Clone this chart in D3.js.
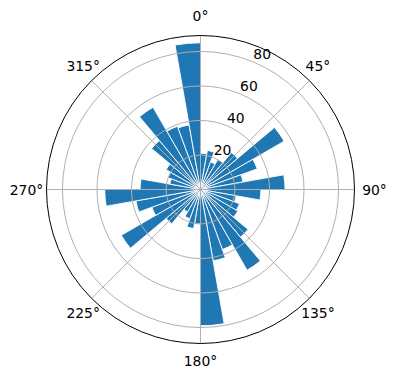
<!DOCTYPE html>
<html>
<head>
<meta charset="utf-8">
<script src="https://cdn.jsdelivr.net/npm/d3@7"></script>
<style>
  body { margin: 0; background: #fff; }
  svg text { font-family: "DejaVu Sans", sans-serif; font-size: 13.9px; fill: #000; }
</style>
</head>
<body>
<svg id="canvas" width="396" height="380"></svg>
<script>
// bin start angles (degrees, clockwise from north), 10 degree bins
let binStart = d3.range(0, 360, 10)
// counts per bin
let counts = [21, 23, 17, 20, 28, 56, 35, 25, 49, 35,
              21, 24, 25, 36, 54, 37, 42, 79, 20, 23,
              18, 15, 26, 53, 30, 38, 55.5, 35, 18, 20,
              23, 37, 55, 39, 38, 85]
let rTicks = [20, 40, 60, 80]
let thetaTicks = [0, 45, 90, 135, 180, 225, 270, 315]

let canvas = d3.select('#canvas')
let cx = 200.5, cy = 189.5, R = 154

let rmax = d3.max(counts) * 1.05
let r = d3.scaleLinear().domain([0, rmax]).range([0, R])
let toRad = d => d * Math.PI / 180

let g = canvas.append('g').attr('transform', 'translate(' + cx + ',' + cy + ')')

let arc = d3.arc()
  .innerRadius(0)
  .outerRadius(d => r(d.value))
  .startAngle(d => toRad(d.angle))
  .endAngle(d => toRad(d.angle + 10))

let bars = binStart.map((a, i) => ({ angle: a, value: counts[i] }))

g.selectAll('path.bar')
  .data(bars)
  .enter()
  .append('path')
  .attr('class', 'bar')
  .attr('d', arc)
  .attr('fill', '#1f77b4')
  .attr('stroke', '#fff')
  .attr('stroke-width', 0.9)

// grid goes over the bars, like matplotlib does
g.selectAll('circle.grid')
  .data(rTicks)
  .enter()
  .append('circle')
  .attr('r', d => r(d))
  .attr('fill', 'none')
  .attr('stroke', '#b0b0b0')
  .attr('stroke-width', 1)

g.selectAll('line.spoke')
  .data(thetaTicks)
  .enter()
  .append('line')
  .attr('x1', 0).attr('y1', 0)
  .attr('x2', d => R * Math.sin(toRad(d)))
  .attr('y2', d => -R * Math.cos(toRad(d)))
  .attr('stroke', '#b0b0b0')
  .attr('stroke-width', 1)

// outer spine
g.append('circle')
  .attr('r', R)
  .attr('fill', 'none')
  .attr('stroke', '#000')
  .attr('stroke-width', 1)

// theta labels, pushed out a bit more sideways on the horizontal ones
let padX = d => Math.abs(Math.sin(toRad(d))) > 0.9 ? 20 : 12
let padY = d => d === 180 ? 17 : 20
g.selectAll('text.theta')
  .data(thetaTicks)
  .enter()
  .append('text')
  .attr('x', d => (R + padX(d)) * Math.sin(toRad(d)))
  .attr('y', d => -(R + padY(d)) * Math.cos(toRad(d)))
  .attr('text-anchor', 'middle')
  .attr('dominant-baseline', 'central')
  .text(d => d + '°')

// radial labels at 22.5 degrees
let rlab = toRad(22.5)
g.selectAll('text.rlab')
  .data(rTicks)
  .enter()
  .append('text')
  .attr('x', d => r(d) * Math.sin(rlab))
  .attr('y', d => -r(d) * Math.cos(rlab) - 2.5)
  .attr('text-anchor', 'start')
  .text(d => d)
</script>
</body>
</html>
